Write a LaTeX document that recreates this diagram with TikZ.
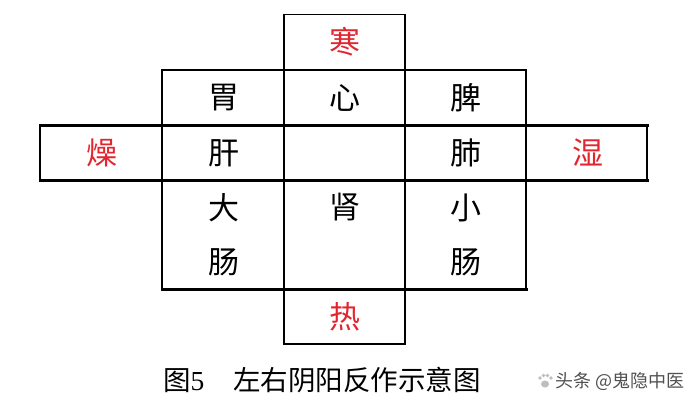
\documentclass[tikz,border=0pt]{standalone}
\usepackage{fontspec}
\newfontfamily\song{Noto Sans CJK SC}
\newfontfamily\numfont{Liberation Serif}
\definecolor{redtxt}{RGB}{226,38,48}
\definecolor{wm}{RGB}{80,80,80}
\definecolor{paw}{RGB}{190,190,190}
\begin{document}
\begin{tikzpicture}[x=1pt,y=-1pt,
  thinln/.style={line width=1.4pt,line cap=rect},
  thickln/.style={line width=3pt,line cap=rect},
  organ/.style={font=\song\fontsize{31}{31}\selectfont,inner sep=0pt},
  qi/.style={organ,text=redtxt},
  captext/.style={font=\song\fontsize{27.5}{27.5}\selectfont,inner sep=0pt,anchor=west},
  wmtext/.style={font=\song\fontsize{18}{18}\selectfont,inner sep=0pt,text=wm}]
\useasboundingbox (0,0) rectangle (700,409);
% grid lines
\draw[thinln] (284,70) -- (284,14.5) -- (405,14.5) -- (405,70);
\draw[thinln] (162,70) -- (526,70);
\draw[thickln] (40,125) -- (647,125);
\draw[thickln] (40,180) -- (647,180);
\draw[thickln] (162,289) -- (526,289);
\draw[line width=2.3pt] (284,344) -- (405,344);
\draw[thinln] (40,125) -- (40,180);
\draw[thinln] (647,125) -- (647,180);
\draw[thinln] (162,70) -- (162,289);
\draw[thinln] (526,70) -- (526,289);
\draw[thinln] (284,14.5) -- (284,344);
\draw[thinln] (405,14.5) -- (405,344);
% texts
\node[qi] (han) at (345,42) {寒};
\node[organ] (wei) at (224,97.5) {胃};
\node[organ] (xin) at (345,97.5) {心};
\node[organ] (pi) at (466,97.5) {脾};
\node[qi] (zao) at (102,153) {燥};
\node[organ] (gan) at (224,153) {肝};
\node[organ] (fei) at (466,153) {肺};
\node[qi] (shi) at (588,153) {湿};
\node[organ] (da) at (224,207.5) {大};
\node[organ] (dachang) at (224,262) {肠};
\node[organ] (shen) at (345,207.5) {肾};
\node[organ] (xiao) at (466,207.5) {小};
\node[organ] (xiaochang) at (466,262) {肠};
\node[qi] (re) at (345,317) {热};
\node[captext] (caption) at (163,380) {图{\numfont 5}\hspace{29pt}左右阴阳反作示意图};
% watermark
\fill[paw] (545,384) ellipse (4pt and 3.5pt);
\fill[paw] (540,378) circle (1.8pt) (543.5,375.5) circle (1.8pt) (547.5,375.5) circle (1.8pt) (551,378) circle (1.8pt);
\node[wmtext,anchor=west] (water) at (555,381) {头条 @鬼隐中医};
\end{tikzpicture}
\end{document}
